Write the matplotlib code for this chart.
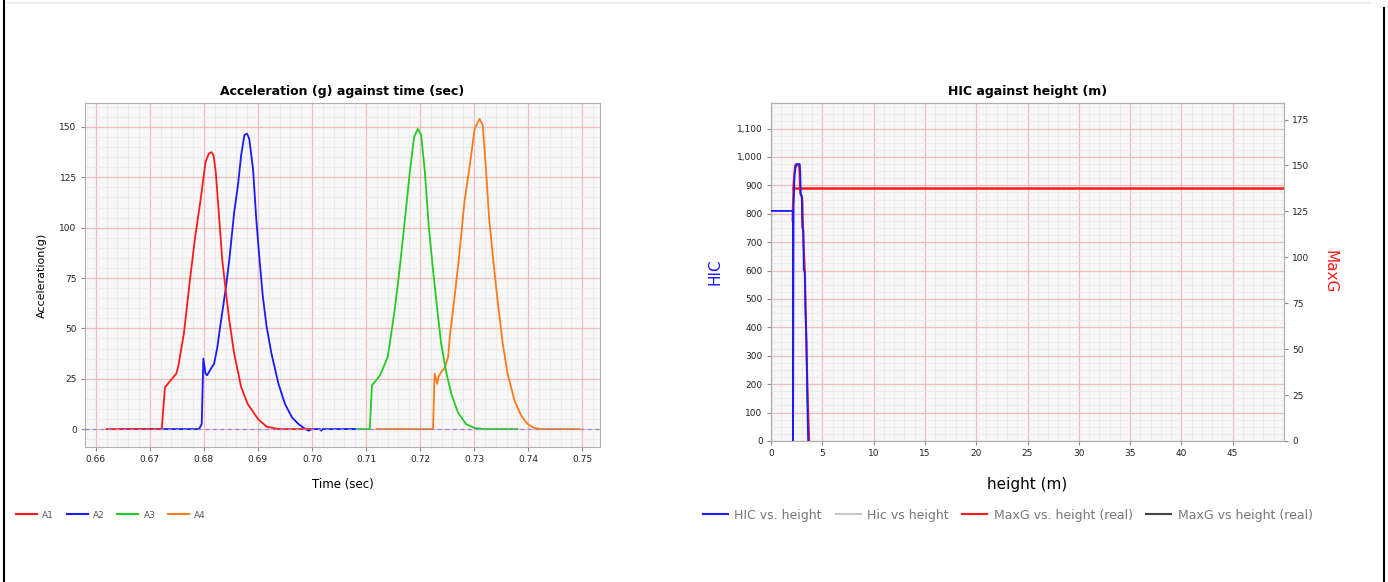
import matplotlib
matplotlib.use('Agg')
import matplotlib.pyplot as plt
from matplotlib.lines import Line2D
from matplotlib.ticker import MultipleLocator, FuncFormatter

# ---- acceleration traces (time in s, acceleration in g) ----
a1_t = [0.662, 0.6722, 0.6728, 0.6731, 0.6741, 0.6749, 0.6753, 0.6763, 0.6775, 0.6784, 0.6794,
        0.6803, 0.6809, 0.6814, 0.6818, 0.6822, 0.6828, 0.6834, 0.6841, 0.6847, 0.6856, 0.6869,
        0.6881, 0.6900, 0.6916, 0.6938, 0.7000]
a1_g = [0, 0, 20.8, 21.7, 25, 27.5, 31.7, 47.5, 75.8, 95.8, 114,
        132.5, 136.7, 137.5, 135.8, 127.5, 105.8, 84, 67.5, 54, 37.5, 20.8,
        12.5, 5, 1.2, 0, 0]

a2_t = [0.665, 0.6791, 0.6796, 0.6799, 0.6803, 0.6806, 0.6813, 0.6819, 0.6825, 0.6831, 0.6841,
        0.6847, 0.6856, 0.6863, 0.6869, 0.6875, 0.6880, 0.6884, 0.6891, 0.6897, 0.6903, 0.6909,
        0.6916, 0.6925, 0.6938, 0.6950, 0.6963, 0.6975, 0.6988, 0.6994, 0.7000, 0.7015, 0.7017,
        0.7020, 0.7080]
a2_g = [0, 0, 2.5, 35, 27.5, 26.7, 30, 32.5, 40.8, 52.5, 70.8,
        84, 107.5, 121, 136, 146, 146.7, 144, 129, 104, 84, 66,
        51, 37.5, 22.5, 12.5, 5.8, 2.5, 0, -0.8, 0, 0, -0.8,
        0, 0]

a3_t = [0.706, 0.7107, 0.7111, 0.7116, 0.7126, 0.7135, 0.7140, 0.7144, 0.7153, 0.7162, 0.7172,
        0.7181, 0.7189, 0.7196, 0.7202, 0.7209, 0.7216, 0.7224, 0.7232, 0.7239, 0.7249, 0.7258,
        0.7270, 0.7285, 0.7301, 0.7319, 0.7380]
a3_g = [0, 0, 21.7, 23.3, 26.7, 32.5, 35.8, 42.5, 59, 79, 104,
        127.5, 145, 149, 146, 127.5, 101, 79, 59, 42.5, 27.5, 17.5,
        8.3, 2.5, 0.5, 0, 0]

a4_t = [0.712, 0.7224, 0.7227, 0.7232, 0.7234, 0.7239, 0.7245, 0.7252, 0.7255, 0.7264, 0.7273,
        0.7282, 0.7292, 0.7301, 0.7310, 0.7316, 0.7322, 0.7328, 0.7336, 0.7344, 0.7353, 0.7362,
        0.7375, 0.7387, 0.7399, 0.7411, 0.7424, 0.7495]
a4_g = [0, 0, 27.5, 22.5, 25.8, 28.3, 30, 35.8, 45.8, 65.8, 87.5,
        112.5, 131, 149, 154, 151, 129, 104, 82.5, 62.5, 42.5, 27.5,
        14, 6.7, 2.5, 0.5, 0, 0]

# ---- HIC / MaxG against drop height (m) ----
hic_h = [0, 2.15, 2.15, 2.2, 2.3, 2.45, 2.8, 2.85, 2.9, 3.0, 3.05, 3.15, 3.2, 3.3, 3.35, 3.45, 3.55, 3.62]
hic_v = [810, 810, 0, 830, 940, 975, 975, 945, 870, 863, 752, 740, 604, 593, 475, 357, 121, 0]

maxg_h = [2.1, 2.2, 2.35, 2.75, 2.85, 3.05, 3.15, 3.3, 3.4, 3.5, 3.6, 3.72]
maxg_v = [120, 140, 150, 150, 135, 132, 110, 92, 65, 40, 20, 0]
maxg_flat_h = [2.15, 50]
maxg_flat_v = [138, 138]

acc_ticks = [0.66, 0.67, 0.68, 0.69, 0.70, 0.71, 0.72, 0.73, 0.74, 0.75]

BG = '#f7f7f7'
MAJOR = '#f0bcbc'
MINOR = '#e9e9e9'
SPINE = '#b0b0b0'
TICKTXT = '#222222'


def style_axes(ax):
    ax.set_facecolor(BG)
    ax.grid(True, which='major', color=MAJOR, linewidth=0.9, zorder=0)
    ax.grid(True, which='minor', color=MINOR, linewidth=0.6, zorder=0)
    ax.set_axisbelow(True)
    for s in ax.spines.values():
        s.set_color(SPINE)
        s.set_linewidth(0.8)
    ax.tick_params(which='major', length=3, width=0.8, color='#888888',
                   labelsize=6.5, labelcolor=TICKTXT, pad=3)
    ax.tick_params(which='minor', length=0)


fig = plt.figure(figsize=(13.88, 5.82), dpi=100)

# ---------------- left chart ----------------
ax1 = fig.add_axes([85 / 1388, 1 - 447 / 582, 515 / 1388, 344 / 582])
style_axes(ax1)
ax1.plot(a4_t, a4_g, color='#ff7a1a', lw=1.3, zorder=3)
ax1.plot(a3_t, a3_g, color='#22cc22', lw=1.3, zorder=4)
ax1.plot(a2_t, a2_g, color='#1a1aff', lw=1.3, zorder=5)
ax1.plot(a1_t, a1_g, color='#ff1a1a', lw=1.3, zorder=6)
ax1.axhline(0, color='#8a8ae6', lw=0.9, ls=(0, (3, 3)), zorder=7)
ax1.set_xlim(0.658, 0.7533)
ax1.set_ylim(-8.9, 161.9)
ax1.set_xticks(acc_ticks)
ax1.xaxis.set_major_formatter(FuncFormatter(lambda v, p: f'{v:.2f}'))
ax1.xaxis.set_minor_locator(MultipleLocator(0.002))
ax1.yaxis.set_major_locator(MultipleLocator(25))
ax1.yaxis.set_minor_locator(MultipleLocator(5))
ax1.set_title('Acceleration (g) against time (sec)', fontsize=9, fontweight='bold', pad=6)
ax1.set_xlabel('Time (sec)', fontsize=8.5, va='center')
ax1.xaxis.set_label_coords(0.5, -0.11)
ax1.set_ylabel('Acceleration(g)', fontsize=8, va='center')
ax1.yaxis.set_label_coords(-0.083, 0.5)

leg1 = [Line2D([], [], color=c, lw=1.5) for c in ['#ff1a1a', '#1a1aff', '#22cc22', '#ff7a1a']]
fig.legend(leg1, ['A1', 'A2', 'A3', 'A4'], loc='center left',
           bbox_to_anchor=(8 / 1388, 1 - 515 / 582), ncol=4, frameon=False,
           fontsize=6.5, handlelength=2.3, handletextpad=0.6, columnspacing=1.4,
           labelcolor='#555555')

# ---------------- right chart ----------------
ax2 = fig.add_axes([771 / 1388, 1 - 441 / 582, 513 / 1388, 338 / 582])
style_axes(ax2)
ax3 = ax2.twinx()
ax3.patch.set_visible(False)
for s in ax3.spines.values():
    s.set_color(SPINE)
    s.set_linewidth(0.8)
ax3.tick_params(which='major', length=3, width=0.8, color='#888888',
                labelsize=6.5, labelcolor=TICKTXT, pad=3)

ax2.set_xlim(0, 50)
ax2.set_ylim(0, 1190)
ax3.set_ylim(0, 184)

# MaxG on the right axis, HIC drawn on top of it in the left axis' data units
ax3.plot(maxg_flat_h, maxg_flat_v, color='#ff1a1a', lw=1.8, zorder=3)
ax3.plot(maxg_h, maxg_v, color='#ff1a1a', lw=1.5, zorder=3)
ax3.plot(hic_h, hic_v, color='#1a1aff', lw=1.3, zorder=4, transform=ax2.transData)
ax2.axvline(0, color='#8a8ae6', lw=0.9, ls=(0, (3, 3)), zorder=5)

ax2.set_xticks(list(range(0, 50, 5)))
ax2.xaxis.set_minor_locator(MultipleLocator(1))
ax2.yaxis.set_major_locator(MultipleLocator(100))
ax2.yaxis.set_minor_locator(MultipleLocator(25))
ax2.yaxis.set_major_formatter(FuncFormatter(lambda v, p: f'{int(v):,}'))
ax3.yaxis.set_major_locator(MultipleLocator(25))

ax2.set_title('HIC against height (m)', fontsize=9, fontweight='bold', pad=6)
ax2.set_xlabel('height (m)', fontsize=11, va='center')
ax2.xaxis.set_label_coords(0.5, -0.13)
ax2.set_ylabel('HIC', fontsize=11, color='#1a1aff', va='center')
ax2.yaxis.set_label_coords(-0.109, 0.5)
ax3.set_ylabel('MaxG', fontsize=11, color='#ff1a1a', rotation=-90, va='center')
ax3.yaxis.set_label_coords(1.09, 0.5)

leg2 = [Line2D([], [], color=c, lw=1.5) for c in ['#1a1aff', '#c8c8c8', '#ff1a1a', '#444444']]
fig.legend(leg2, ['HIC vs. height', 'Hic vs height', 'MaxG vs. height (real)', 'MaxG vs height (real)'],
           loc='center left', bbox_to_anchor=(692 / 1388, 1 - 515 / 582), ncol=4,
           frameon=False, fontsize=9, handlelength=2.0, handletextpad=0.5,
           columnspacing=1.1, labelcolor='#777777')

# page frame
fig.add_artist(Line2D([4 / 1388, 4 / 1388], [0, 1], color='black', lw=1.5))
fig.add_artist(Line2D([1384 / 1388, 1384 / 1388], [0, 1 - 8 / 582], color='black', lw=1.5))
fig.add_artist(Line2D([8 / 1388, 1370 / 1388], [1 - 3 / 582, 1 - 3 / 582], color='#ebebeb', lw=1.5))

fig.savefig('out.png', dpi=100)
